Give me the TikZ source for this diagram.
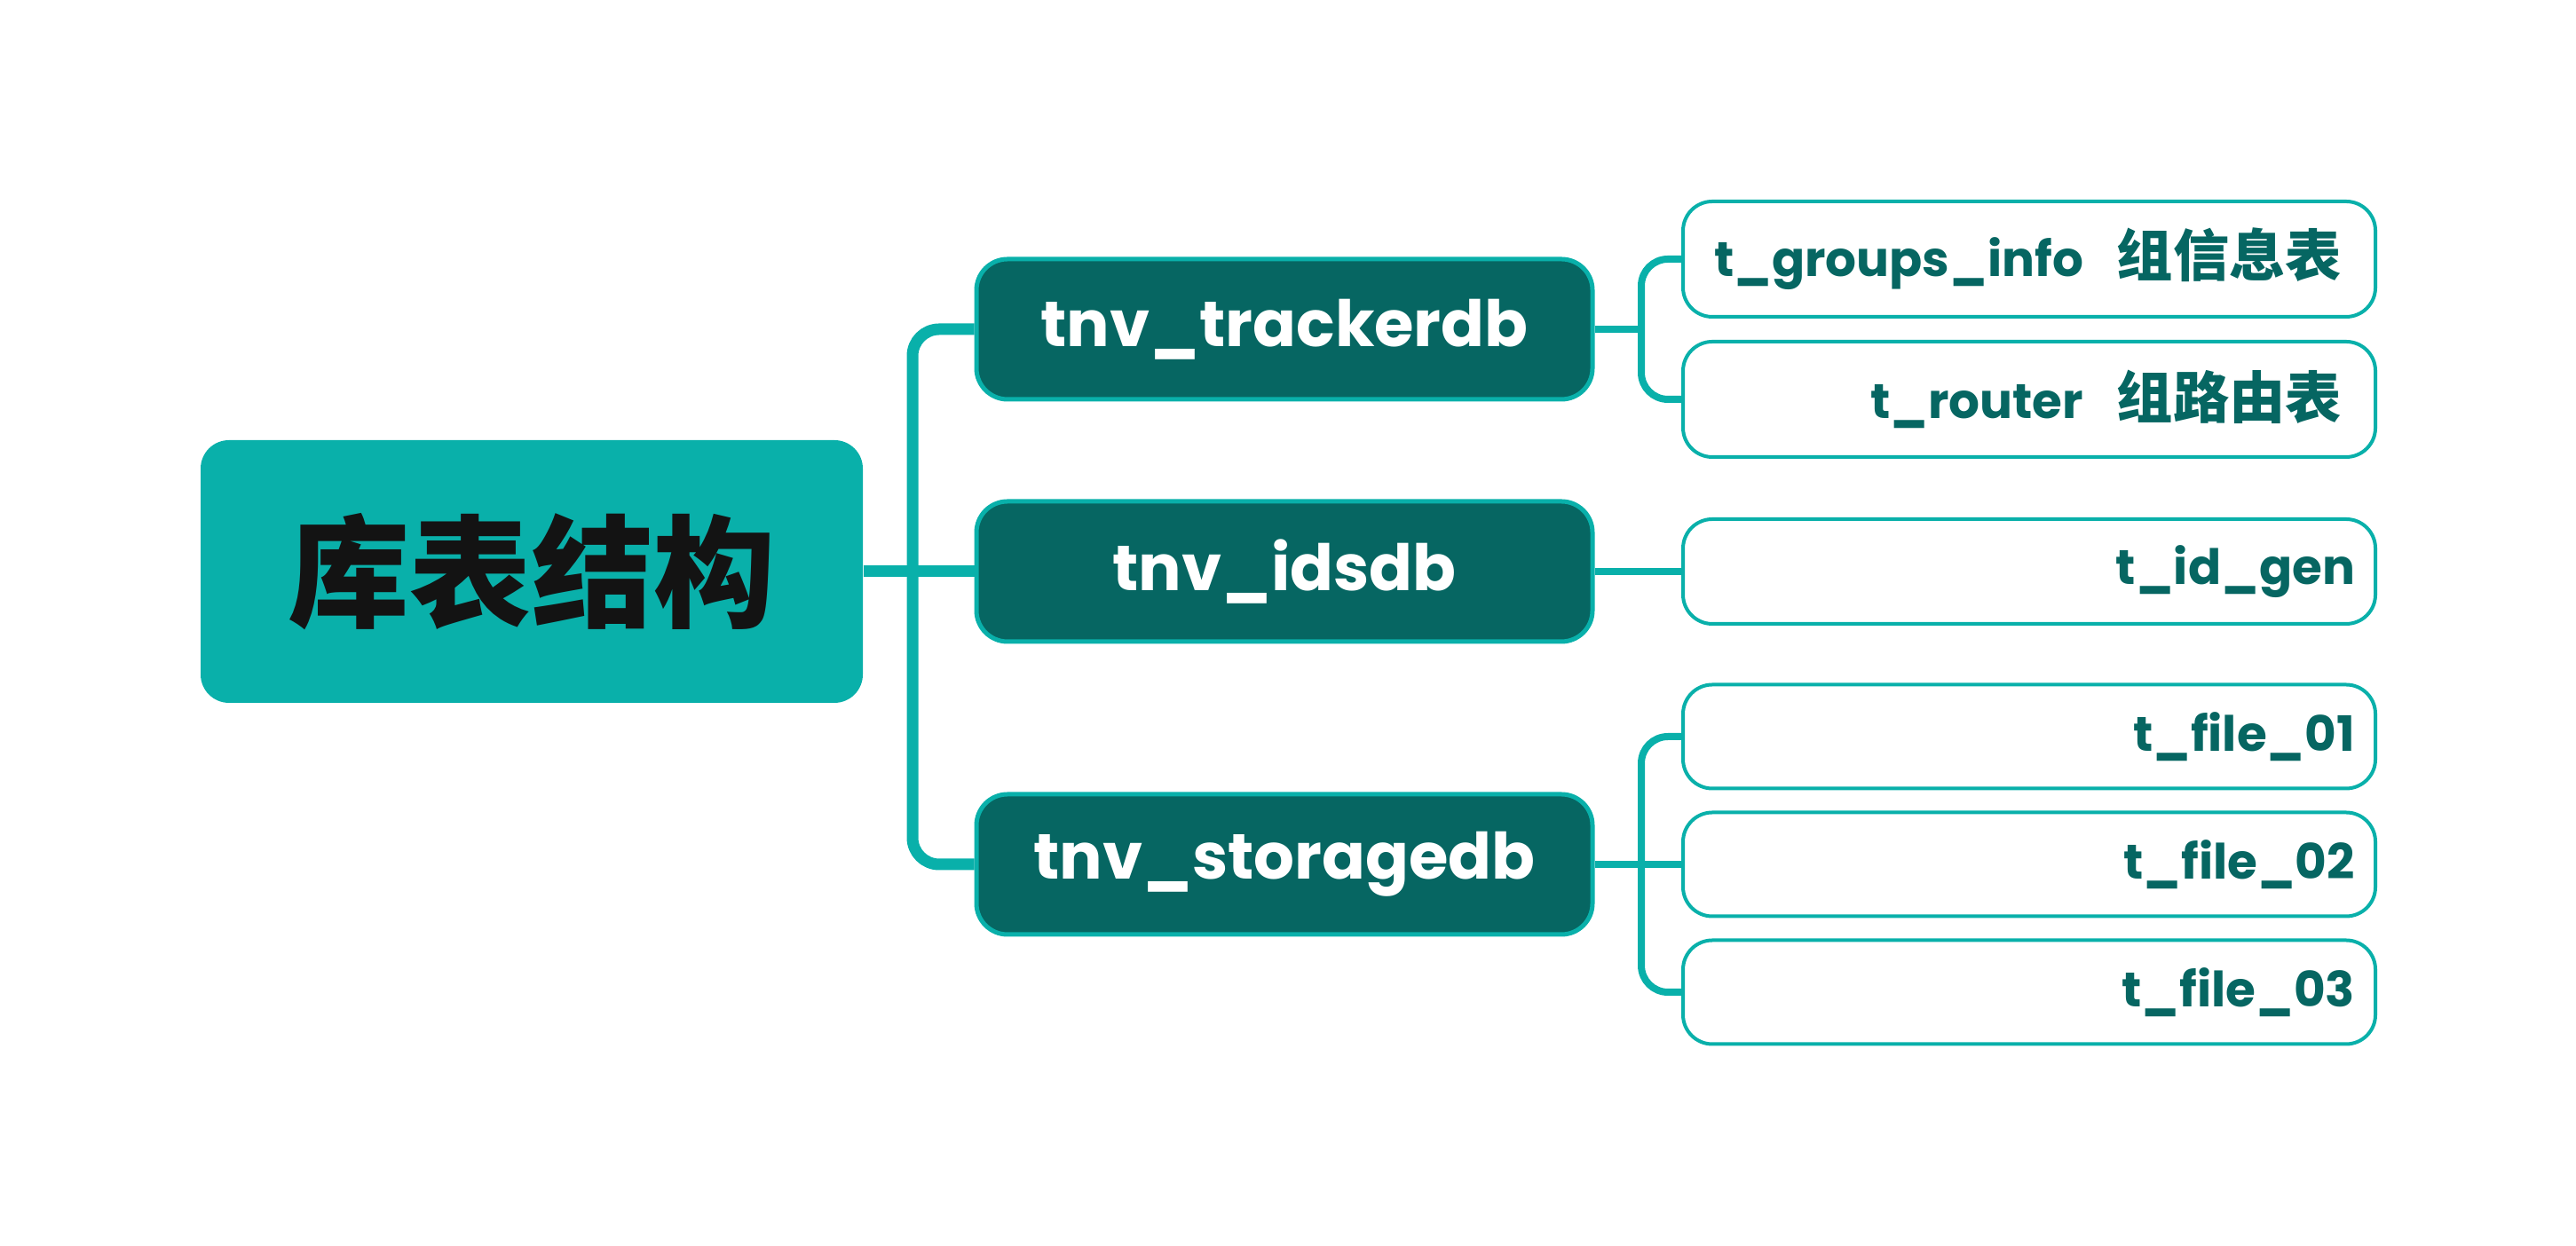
\documentclass[tikz,border=0pt]{standalone}
\usepackage{fontspec}
\setmainfont{Poppins}
\newfontfamily\cjk{Noto Sans CJK SC}
\definecolor{mintc}{HTML}{09B0AA}
\definecolor{deepc}{HTML}{066662}
\definecolor{inkc}{HTML}{131313}
\begin{document}
\begin{tikzpicture}[
    link/.style={line width=0.08cm, mintc, rounded corners=0.3cm},
    trunklink/.style={link, line width=0.13cm},
    rootbox/.style={fill=mintc, rounded corners=0.32cm, minimum width=7.46cm, minimum height=2.96cm, text=inkc, font=\cjk\bfseries\fontsize{39}{46}\selectfont},
    dbbox/.style={draw=mintc, line width=0.05cm, fill=deepc, rounded corners=0.35cm, minimum width=6.94cm, minimum height=1.58cm, text=white, font=\bfseries\fontsize{20.5}{24}\selectfont},
    tablebox/.style={draw=mintc, line width=0.04cm, fill=white, rounded corners=0.33cm, minimum width=7.8cm, inner xsep=0.23cm, text width=7.34cm, align=right, text=deepc, font=\bfseries\fontsize{15.6}{20}\selectfont}
  ]
  \useasboundingbox (0,0) rectangle (29.02,14.04);

  \node[rootbox] (root) at (5.99,7.60) {库表结构};

  \node[dbbox] (tracker) at (14.47,10.33) {tnv\_trackerdb};
  \node[dbbox] (idsdb) at (14.47,7.60) {tnv\_idsdb};
  \node[dbbox] (storage) at (14.47,4.30) {tnv\_storagedb};

  \node[tablebox, minimum height=1.30cm] (groups) at (22.86,11.12) {t\_groups\_info\hspace{0.38cm}{\cjk\fontsize{18}{20}\selectfont 组信息表}\kern0.15cm};
  \node[tablebox, minimum height=1.30cm] (router) at (22.86,9.54) {t\_router\hspace{0.38cm}{\cjk\fontsize{18}{20}\selectfont 组路由表}\kern0.15cm};
  \node[tablebox, minimum height=1.18cm] (idgen) at (22.86,7.60) {t\_id\_gen};
  \node[tablebox, minimum height=1.17cm] (file1) at (22.86,5.74) {t\_file\_01};
  \node[tablebox, minimum height=1.17cm] (file2) at (22.86,4.30) {t\_file\_02};
  \node[tablebox, minimum height=1.17cm] (file3) at (22.86,2.86) {t\_file\_03};

  \coordinate (trunk) at (10.28,7.60);
  \coordinate (fork1) at (18.49,10.33);
  \coordinate (fork2) at (18.49,4.30);

  \draw[trunklink] (tracker.west) -| (trunk) |- (storage.west);
  \draw[trunklink] (root.east) -- (idsdb.west);
  \draw[link] (groups.west) -| (fork1) |- (router.west);
  \draw[link] (tracker.east) -- (fork1);
  \draw[link] (idsdb.east) -- (idgen.west);
  \draw[link] (file1.west) -| (fork2) |- (file3.west);
  \draw[link] (storage.east) -- (file2.west);
\end{tikzpicture}
\end{document}
